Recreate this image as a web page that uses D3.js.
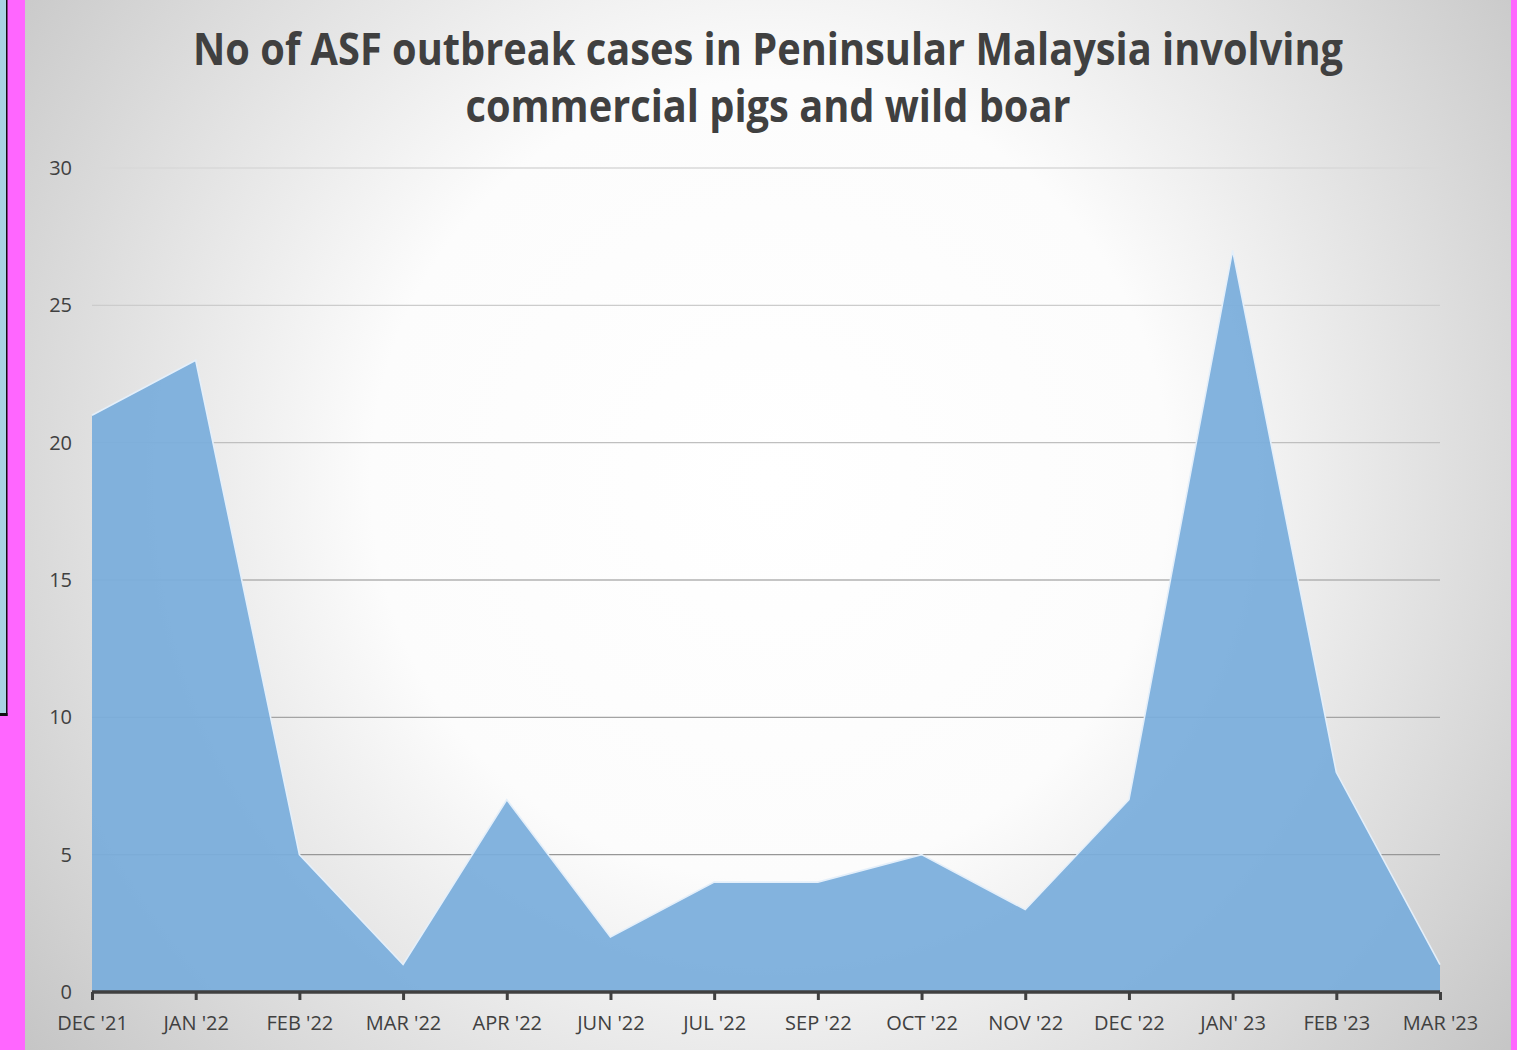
<!DOCTYPE html>
<html>
<head>
<meta charset="utf-8">
<script src="https://cdn.jsdelivr.net/npm/d3@7"></script>
<style>
  html, body { margin: 0; padding: 0; background: #ff66ff; }
  svg { display: block; }
</style>
</head>
<body>
<svg id="chart" width="1517" height="1050"></svg>
<script>
/* ── Data ─────────────────────────────────────────────── */
const months = ["DEC '21", "JAN '22", "FEB '22", "MAR '22", "APR '22", "JUN '22", "JUL '22",
                "SEP '22", "OCT '22", "NOV '22", "DEC '22", "JAN' 23", "FEB '23", "MAR '23"];
const cases = [21, 23, 5, 1, 7, 2, 4, 4, 5, 3, 7, 27, 8, 1];
const yTicks = [0, 5, 10, 15, 20, 25, 30];
const titleLines = ["No of ASF outbreak cases in Peninsular Malaysia involving",
                    "commercial pigs and wild boar"];

const W = 1517, H = 1050;
const svg = d3.select('#chart');
const defs = svg.append('defs');

// background radial shading
const grad = defs.append('radialGradient')
  .attr('id', 'bg').attr('gradientUnits', 'userSpaceOnUse')
  .attr('cx', 770).attr('cy', 480).attr('r', 950);
grad.append('stop').attr('offset', 0).attr('stop-color', '#ffffff');
grad.append('stop').attr('offset', 0.42).attr('stop-color', '#fcfcfc');
grad.append('stop').attr('offset', 1).attr('stop-color', '#c4c4c4');

// magenta frame + left remnant panel
svg.append('rect').attr('width', W).attr('height', H).attr('fill', '#ff66ff');
svg.append('rect').attr('x', 0).attr('y', 0).attr('width', 6).attr('height', 714).attr('fill', '#a9d3e3');
svg.append('rect').attr('x', 6).attr('y', 0).attr('width', 1.5).attr('height', 716).attr('fill', '#111');
svg.append('rect').attr('x', 0).attr('y', 713).attr('width', 7.5).attr('height', 3).attr('fill', '#111');
svg.append('rect').attr('x', 25).attr('y', 0).attr('width', 1486).attr('height', H).attr('fill', 'url(#bg)');

/* ── Scales ───────────────────────────────────────────── */
const x = d3.scalePoint().domain(months).range([92, 1440]);
const y = d3.scaleLinear().domain([0, 30]).range([992, 168]);
const gridColor = d3.scaleLinear().domain([30, 0]).range(['#d9d9d9', '#8a8a8a']);

// gridlines
svg.append('g').selectAll('line').data(yTicks.filter(d => d > 0)).join('line')
  .attr('x1', 92).attr('x2', 1440)
  .attr('y1', d => y(d)).attr('y2', d => y(d))
  .attr('stroke', d => gridColor(d)).attr('stroke-width', 1.3);

// y labels
svg.append('g').selectAll('text').data(yTicks).join('text')
  .attr('x', 72).attr('y', d => y(d)).attr('dy', '0.35em')
  .attr('text-anchor', 'end')
  .attr('font-family', 'Open Sans, sans-serif').attr('font-size', 20)
  .attr('fill', '#404040').text(d => d);

/* ── Area ─────────────────────────────────────────────── */
const area = d3.area().x((d, i) => x(months[i])).y0(y(0)).y1(d => y(d));
const line = d3.line().x((d, i) => x(months[i])).y(d => y(d));

svg.append('path').datum(cases)
  .attr('d', area)
  .attr('fill', '#7aaddb').attr('fill-opacity', 0.93);
svg.append('path').datum(cases)
  .attr('d', line)
  .attr('fill', 'none').attr('stroke', '#e4effa').attr('stroke-width', 1.6);

/* ── X axis ───────────────────────────────────────────── */
const xAxis = svg.append('g').attr('transform', `translate(0,${y(0)})`)
  .call(d3.axisBottom(x).tickSize(8).tickPadding(16));
xAxis.select('.domain').attr('stroke', '#404040').attr('stroke-width', 3.5)
  .attr('d', `M${x(months[0])},0H${x(months[months.length - 1])}`);
xAxis.selectAll('.tick line').attr('stroke', '#404040').attr('stroke-width', 3);
xAxis.selectAll('.tick text')
  .attr('font-family', 'Open Sans, sans-serif').attr('font-size', 20)
  .attr('fill', '#404040');

/* ── Title ────────────────────────────────────────────── */
const titleWidths = [1150, 605];
titleLines.forEach((t, i) => {
  svg.append('text')
    .attr('x', 768).attr('y', 65 + i * 57)
    .attr('text-anchor', 'middle')
    .attr('font-family', 'Open Sans, sans-serif').attr('font-weight', 700)
    .attr('font-size', 44).attr('fill', '#404040')
    .attr('textLength', titleWidths[i]).attr('lengthAdjust', 'spacingAndGlyphs')
    .text(t);
});
</script>
</body>
</html>
